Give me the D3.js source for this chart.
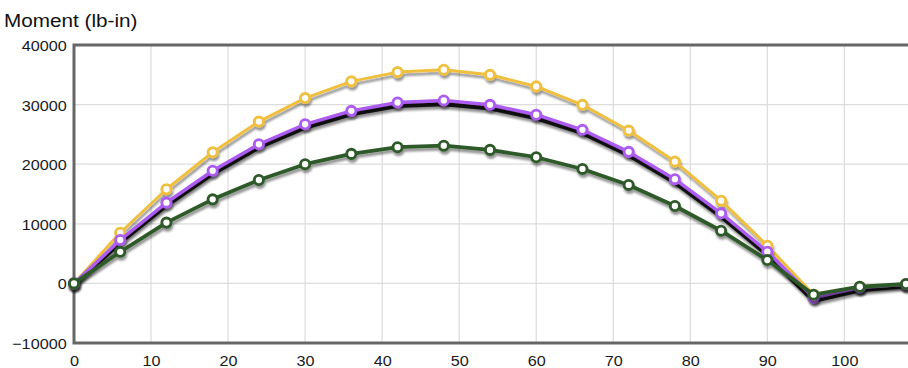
<!DOCTYPE html>
<html>
<head>
<meta charset="utf-8">
<script src="https://cdn.jsdelivr.net/npm/d3@7"></script>
<style>
    body { margin: 0; background: #fff; }
    svg { display: block; font-family: "Liberation Sans", Arial, sans-serif; }
</style>
</head>
<body>
<div id="chart"></div>
<script>
// Beam moment data, sampled every 6 in along the span
const stations = [0, 6, 12, 18, 24, 30, 36, 42, 48, 54, 60, 66, 72, 78, 84, 90, 96, 102, 108];
const momentMax = [0, 8500, 15800, 22000, 27150, 31100, 33900, 35450, 35850, 35000, 33050, 29970, 25650, 20440, 13880, 6320, -1900, -560, -100];
const momentBlack = [-200, 6900, 13100, 18400, 22850, 26150, 28400, 29800, 30100, 29400, 27750, 25250, 21550, 16950, 11250, 4800, -2900, -1100, -400];
const momentPurple = [0, 7280, 13550, 18900, 23350, 26700, 28950, 30350, 30700, 29970, 28300, 25770, 22070, 17480, 11760, 5310, -2400, -700, -150];
const momentGreen = [0, 5300, 10200, 14100, 17350, 20000, 21730, 22850, 23100, 22400, 21170, 19200, 16520, 12990, 8840, 3920, -1900, -560, -100];

const yTicks = [-10000, 0, 10000, 20000, 30000, 40000];
const xTicks = [0, 10, 20, 30, 40, 50, 60, 70, 80, 90, 100];

const width = 908, height = 368;
const plot = {left: 74, right: 906, top: 45, bottom: 343};
const textStretch = 1.08;

const svg = d3.select("#chart")
    .append("svg")
    .attr("width", width)
    .attr("height", height);

// soft shadow under every line
const defs = svg.append("defs");
defs.append("filter")
    .attr("id", "shadow")
    .attr("x", "-5%").attr("y", "-5%")
    .attr("width", "110%").attr("height", "120%")
    .append("feDropShadow")
    .attr("dx", 1).attr("dy", 3)
    .attr("stdDeviation", 1.2)
    .attr("flood-color", "#000")
    .attr("flood-opacity", 0.42);

const x = d3.scaleLinear().domain([0, 108]).range([plot.left, plot.right]);
const y = d3.scaleLinear().domain([-10000, 40000]).range([plot.bottom, plot.top]);

// grid
svg.append("g")
    .selectAll("line")
    .data(xTicks.slice(1))
    .enter()
    .append("line")
    .attr("x1", d => x(d)).attr("x2", d => x(d))
    .attr("y1", plot.top).attr("y2", plot.bottom)
    .attr("stroke", "#dcdcdc")
    .attr("stroke-width", 1.2);

svg.append("g")
    .selectAll("line")
    .data(yTicks.slice(1, -1))
    .enter()
    .append("line")
    .attr("x1", plot.left).attr("x2", width + 10)
    .attr("y1", d => y(d)).attr("y2", d => y(d))
    .attr("stroke", "#dcdcdc")
    .attr("stroke-width", 1.2);

// frame (right edge runs off the picture)
svg.append("rect")
    .attr("x", plot.left)
    .attr("y", plot.top)
    .attr("width", width + 20 - plot.left)
    .attr("height", plot.bottom - plot.top)
    .attr("fill", "none")
    .attr("stroke", "#666")
    .attr("stroke-width", 3);

// axes, labels only
const yAxis = d3.axisLeft(y)
    .tickValues(yTicks)
    .tickSize(0)
    .tickFormat(d3.format("d"));

svg.append("g")
    .attr("transform", `translate(${plot.left},0)`)
    .call(yAxis)
    .call(g => g.select(".domain").remove())
    .selectAll("text")
    .attr("x", -6.8)
    .attr("dy", "0.36em")
    .attr("transform", `scale(${textStretch},1)`)
    .style("font-size", "15px")
    .style("fill", "#1a1a1a");

const xAxis = d3.axisBottom(x)
    .tickValues(xTicks)
    .tickSize(0)
    .tickFormat(d3.format("d"));

svg.append("g")
    .attr("transform", `translate(0,${plot.bottom})`)
    .call(xAxis)
    .call(g => g.select(".domain").remove())
    .selectAll("text")
    .attr("y", 23.5)
    .attr("dy", 0)
    .attr("transform", `scale(${textStretch},1)`)
    .style("font-size", "15px")
    .style("fill", "#1a1a1a");

// title
svg.append("text")
    .attr("transform", `translate(4,26.5) scale(1.12,1)`)
    .style("font-size", "18.5px")
    .style("fill", "#111")
    .text("Moment (lb-in)");

// series
const series = [
    {values: momentMax, color: "#efbf3e", width: 3, markers: true},
    {values: momentBlack, color: "#141414", width: 4.5, markers: false},
    {values: momentPurple, color: "#ad5cf2", width: 3.4, markers: true},
    {values: momentGreen, color: "#2e5a2a", width: 3.8, markers: true}
];

const line = d3.line()
    .x(d => x(d[0]))
    .y(d => y(d[1]));

series.forEach(s => {
    const pts = stations.map((st, i) => [st, s.values[i]]);
    const g = svg.append("g").attr("filter", "url(#shadow)");

    g.append("path")
        .datum(pts)
        .attr("d", line)
        .attr("fill", "none")
        .attr("stroke", s.color)
        .attr("stroke-width", s.width)
        .attr("stroke-linejoin", "round");

    if (s.markers) {
        g.selectAll("circle")
            .data(pts)
            .enter()
            .append("circle")
            .attr("cx", d => x(d[0]))
            .attr("cy", d => y(d[1]))
            .attr("r", 4.6)
            .attr("fill", "#fff")
            .attr("stroke", s.color)
            .attr("stroke-width", 2.9);
    }
});
</script>
</body>
</html>
